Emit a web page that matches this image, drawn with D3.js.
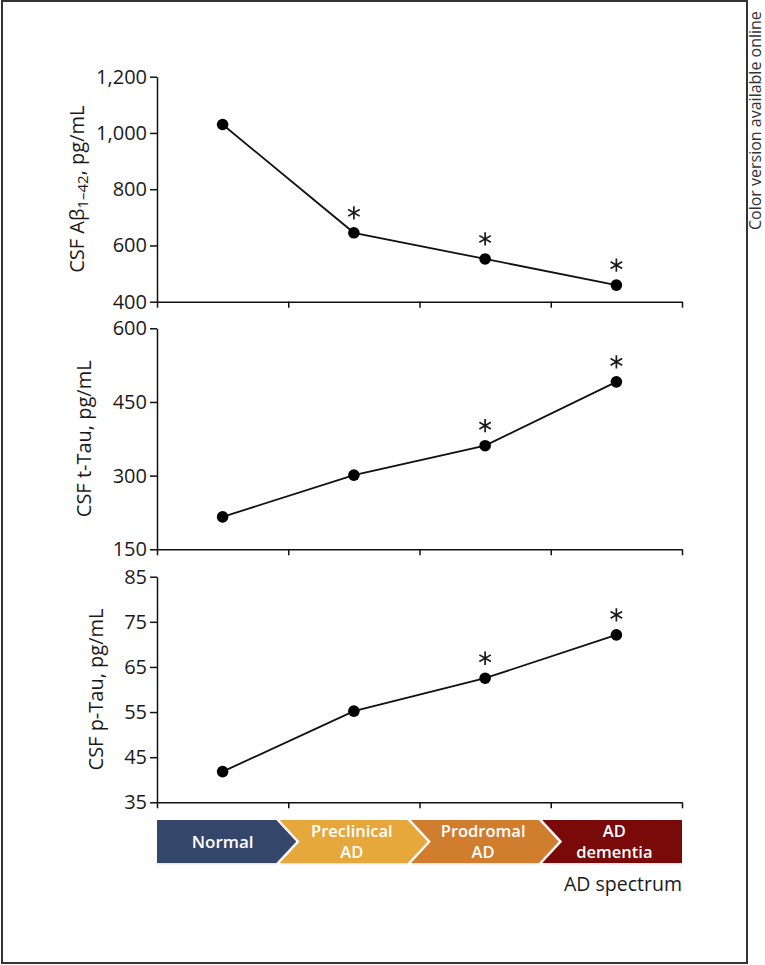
<!DOCTYPE html>
<html>
<head>
<meta charset="utf-8">
<script src="https://cdn.jsdelivr.net/npm/d3@7"></script>
<style>
  html, body { margin: 0; padding: 0; background: #fff; }
  svg { display: block; }
  text { font-family: "Open Sans", "Noto Sans", sans-serif; }
</style>
</head>
<body>
<script>
// ---- data ----
const categories = ["Normal", "Preclinical AD", "Prodromal AD", "AD dementia"];
const stageLines = [["Normal"], ["Preclinical", "AD"], ["Prodromal", "AD"], ["AD", "dementia"]];
const stageColors = ["#35466b", "#e6a83a", "#d07d2e", "#7a0909"];

const abetaValues = [1030, 645, 552, 459];
const tTauValues  = [216, 301, 361, 491];
const pTauValues  = [41.8, 55.2, 62.5, 72.1];

const abetaSig = [false, true, true, true];
const tTauSig  = [false, false, true, true];
const pTauSig  = [false, false, true, true];

const abetaTicks = [400, 600, 800, 1000, 1200];
const tTauTicks  = [150, 300, 450, 600];
const pTauTicks  = [35, 45, 55, 65, 75, 85];

// ---- layout ----
const W = 765, H = 965;
const svg = d3.select("body").append("svg").attr("width", W).attr("height", H);

// frame
svg.append("rect").attr("x", 2).attr("y", 1).attr("width", 745).attr("height", 962)
  .attr("fill", "none").attr("stroke", "#333").attr("stroke-width", 2);

svg.append("text")
  .attr("transform", "translate(760.5,230) rotate(-90)")
  .attr("text-anchor", "start")
  .attr("font-size", 16).attr("fill", "#333")
  .text("Color version available online");

const x = d3.scaleLinear().domain([0, categories.length]).range([157, 682]);

const panels = [
  { values: abetaValues, sig: abetaSig, ticks: abetaTicks, top: 76.7, bottom: 301.7, labelX: 83.5, label: "abeta" },
  { values: tTauValues,  sig: tTauSig,  ticks: tTauTicks,  top: 328.3, bottom: 549.3, labelX: 90.5, label: "CSF t-Tau, pg/mL" },
  { values: pTauValues,  sig: pTauSig,  ticks: pTauTicks,  top: 576.7, bottom: 802.3, labelX: 103, label: "CSF p-Tau, pg/mL" }
];

const fmt = d3.format(",");

panels.forEach(p => {
  const y = d3.scaleLinear().domain([p.ticks[0], p.ticks[p.ticks.length - 1]]).range([p.bottom, p.top]);
  const g = svg.append("g");

  // y axis
  const ya = g.append("g").attr("transform", `translate(${x(0)},0)`)
    .call(d3.axisLeft(y).tickValues(p.ticks).tickSize(7).tickPadding(3).tickSizeOuter(0).tickFormat(fmt));
  ya.selectAll("text").attr("font-size", 20).attr("font-family", "Open Sans").attr("fill", "#1a1a1a");
  ya.selectAll("path, line").attr("stroke", "#111").attr("stroke-width", 1.5);

  // x axis
  const xa = g.append("g").attr("transform", `translate(0,${p.bottom})`)
    .call(d3.axisBottom(x).tickValues(d3.range(categories.length + 1)).tickSize(6).tickSizeOuter(0).tickFormat(""));
  xa.selectAll("path, line").attr("stroke", "#111").attr("stroke-width", 1.5);

  // y label
  const cy = (p.top + p.bottom) / 2;
  const lab = g.append("text")
    .attr("transform", `translate(${p.labelX},${cy}) rotate(-90)`)
    .attr("text-anchor", "middle").attr("font-size", 20).attr("fill", "#1a1a1a");
  if (p.label === "abeta") {
    lab.append("tspan").text("CSF A\u03B2");
    lab.append("tspan").attr("font-size", 15).attr("dy", 4).text("1\u201342");
    lab.append("tspan").attr("dy", -4).text(", pg/mL");
  } else {
    lab.text(p.label);
  }

  // line
  const line = d3.line().x((d, i) => x(i + 0.5)).y(d => y(d));
  g.append("path").datum(p.values).attr("d", line)
    .attr("fill", "none").attr("stroke", "#111").attr("stroke-width", 1.8);

  // dots
  g.selectAll("circle").data(p.values).join("circle")
    .attr("cx", (d, i) => x(i + 0.5)).attr("cy", d => y(d)).attr("r", 5.8).attr("fill", "#000");

  // asterisks
  const star = d3.symbol(d3.symbolAsterisk, 125);
  g.selectAll("path.star").data(p.values.map((v, i) => ({ v, i, s: p.sig[i] })).filter(d => d.s))
    .join("path").attr("class", "star")
    .attr("transform", d => `translate(${x(d.i + 0.5)},${y(d.v) - 20})`)
    .attr("d", star).attr("fill", "none").attr("stroke", "#1a1a1a").attr("stroke-width", 1.7);
});

// ---- stage chevrons ----
const barTop = 820, barBot = 863, barMid = (barTop + barBot) / 2;
const cL = 12, cR = 8, gap = 3.5;
const chev = svg.append("g");
categories.forEach((c, i) => {
  const b0 = x(i), b1 = x(i + 1);
  let pts = [];
  if (i === 0) {
    pts.push([b0, barTop]);
  } else {
    pts.push([b0 - cL + gap, barTop]);
  }
  if (i === categories.length - 1) {
    pts.push([b1, barTop], [b1, barBot]);
  } else {
    pts.push([b1 - cL, barTop], [b1 + cR, barMid], [b1 - cL, barBot]);
  }
  if (i === 0) {
    pts.push([b0, barBot]);
  } else {
    pts.push([b0 - cL + gap, barBot], [b0 + cR + gap, barMid]);
  }
  const d = "M" + pts.map(q => q.join(",")).join("L") + "Z";
  chev.append("path").attr("d", d).attr("fill", "#999").attr("opacity", 0.25)
    .attr("transform", "translate(0,1.5)");
  chev.append("path").attr("d", d).attr("fill", stageColors[i]);

  const lines = stageLines[i];
  const cx = (b0 + b1) / 2 + (i === 0 ? 0 : -2);
  if (lines.length === 1) {
    chev.append("text").attr("text-anchor", "middle").attr("font-size", 17)
      .attr("font-weight", 600).attr("fill", "#fff")
      .attr("x", cx).attr("y", barMid + 6).text(lines[0]);
  } else {
    lines.forEach((ln, k) => {
      chev.append("text").attr("text-anchor", "middle").attr("font-size", 16.5)
        .attr("font-weight", 600).attr("fill", "#fff")
        .attr("x", cx).attr("y", 837 + k * 21).text(ln);
    });
  }
});

svg.append("text").attr("x", 682).attr("y", 891).attr("text-anchor", "end")
  .attr("font-size", 19.5).attr("fill", "#1a1a1a").text("AD spectrum");
</script>
</body>
</html>
